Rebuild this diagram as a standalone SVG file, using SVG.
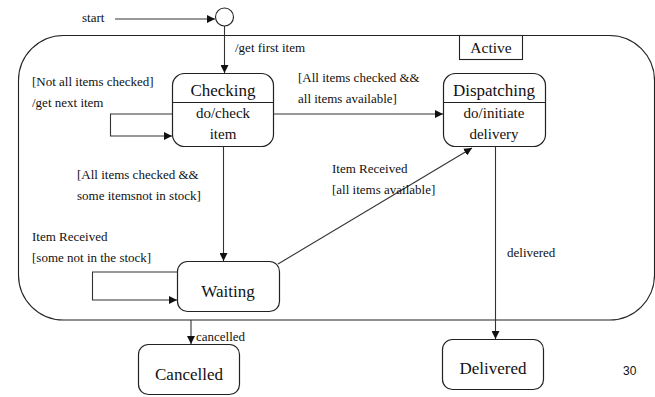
<svg xmlns="http://www.w3.org/2000/svg" width="655" height="397" viewBox="0 0 655 397">
  <defs>
    <marker id="arrow" viewBox="0 0 10 10" refX="10" refY="5" markerWidth="8" markerHeight="8" markerUnits="userSpaceOnUse" orient="auto">
      <path d="M0,0 L10,5 L0,10 Z" fill="#111"/>
    </marker>
  </defs>
  <style>
    .lbl { font-size: 13px; }
    .big { font-size: 17px; text-anchor: middle; }
    .sub { font-size: 15px; text-anchor: middle; }
    .act { font-size: 15.5px; text-anchor: middle; }
    .node { fill: #fff; stroke: #222; stroke-width: 1.2; }
    .edge { fill: none; stroke: #333; stroke-width: 1.1; marker-end: url(#arrow); }
    .plain { fill: none; stroke: #222; stroke-width: 1.1; }
  </style>
  <rect width="655" height="397" fill="#fff"/>

  <g font-family="Liberation Serif, Times New Roman, serif" fill="#111">
  <!-- composite state -->
  <g id="active">
    <rect x="18.5" y="35.5" width="636" height="284.5" rx="45" ry="45" class="plain"/>
    <rect x="459.5" y="35.5" width="63" height="24" class="plain" fill="#fff"/>
    <text x="491" y="53" class="act">Active</text>
  </g>

  <g id="initial">
    <circle cx="224.5" cy="17" r="9" fill="#fff" stroke="#222" stroke-width="1.1"/>
  </g>

  <g id="checking">
    <rect x="172.5" y="73.5" width="101" height="73" rx="12" class="node"/>
    <line x1="172.5" y1="102.5" x2="273.5" y2="102.5" class="plain"/>
    <text x="223" y="96" class="big">Checking</text>
    <text x="223" y="118" class="sub">do/check</text>
    <text x="223" y="139" class="sub">item</text>
  </g>

  <g id="dispatching">
    <rect x="443.5" y="73.5" width="102" height="73" rx="12" class="node"/>
    <line x1="443.5" y1="102.5" x2="545.5" y2="102.5" class="plain"/>
    <text x="494" y="96" class="big">Dispatching</text>
    <text x="494" y="118" class="sub">do/initiate</text>
    <text x="494" y="139" class="sub">delivery</text>
  </g>

  <g id="waiting">
    <rect x="177.5" y="261.5" width="102" height="50" rx="10" class="node"/>
    <text x="228" y="297" class="big">Waiting</text>
  </g>

  <g id="cancelled">
    <rect x="138.5" y="344.5" width="101" height="50" rx="10" class="node"/>
    <text x="189" y="380" class="big">Cancelled</text>
  </g>

  <g id="delivered">
    <rect x="442.5" y="339.5" width="101" height="50" rx="10" class="node"/>
    <text x="493" y="374" class="big">Delivered</text>
  </g>

  <g id="connectors">
    <line x1="115" y1="19" x2="215" y2="19" class="edge"/>
    <line x1="224.5" y1="26" x2="224.5" y2="73" class="edge"/>
    <polyline points="172.5,114 110.5,114 110.5,136 172,136" class="edge"/>
    <line x1="273.5" y1="114" x2="443" y2="114" class="edge"/>
    <line x1="223.5" y1="147" x2="223.5" y2="261" class="edge"/>
    <polyline points="177.5,272 92.5,272 92.5,300 177,300" class="edge"/>
    <line x1="278" y1="264" x2="472" y2="148" class="edge"/>
    <line x1="495.5" y1="147" x2="495.5" y2="339" class="edge"/>
    <line x1="191" y1="320" x2="191" y2="344" class="edge"/>
  </g>

  <g id="labels">
    <text x="82" y="22" class="lbl">start</text>
    <text x="235" y="52" class="lbl">/get first item</text>
    <text x="32" y="86" class="lbl">[Not all items checked]</text>
    <text x="32" y="107" class="lbl">/get next item</text>
    <text x="298" y="82" class="lbl">[All items checked &amp;&amp;</text>
    <text x="298" y="103" class="lbl">all items available]</text>
    <text x="77" y="179" class="lbl">[All items checked &amp;&amp;</text>
    <text x="77" y="200" class="lbl">some itemsnot in stock]</text>
    <text x="32" y="241" class="lbl">Item Received</text>
    <text x="32" y="262" class="lbl">[some not in the stock]</text>
    <text x="332" y="173" class="lbl">Item Received</text>
    <text x="332" y="194" class="lbl">[all items available]</text>
    <text x="507" y="257" class="lbl">delivered</text>
    <text x="196" y="341" class="lbl">cancelled</text>
    <text x="623" y="375" font-family="Liberation Sans, Arial, sans-serif" font-size="12">30</text>
  </g>
  </g>
</svg>
